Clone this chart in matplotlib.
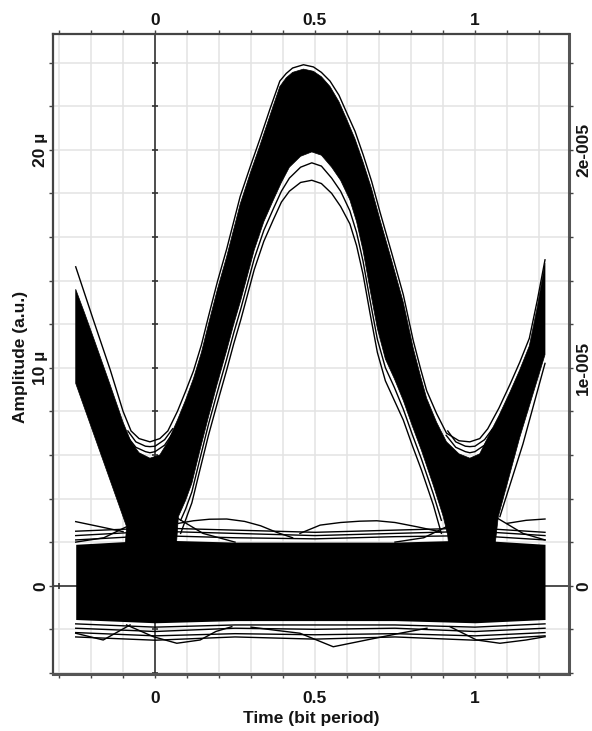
import numpy as np
import matplotlib
matplotlib.use("Agg")
import matplotlib.pyplot as plt

plt.rcParams["font.family"] = ["Liberation Sans", "DejaVu Sans"]

# ---- data (time in bit periods, amplitude in micro-units) ----
# outline of the dense "1" region: two V crossings plus the raised pulse
eye_x = [-0.248, -0.22, -0.193, -0.14, -0.1, -0.075, -0.05, -0.016, 0.015, 0.04,
         0.07, 0.095, 0.12, 0.145, 0.167, 0.195, 0.224, 0.245, 0.266, 0.297,
         0.328, 0.36, 0.39, 0.41, 0.43, 0.464, 0.495, 0.52, 0.547, 0.575,
         0.599, 0.625, 0.651, 0.677, 0.703, 0.74, 0.776, 0.807, 0.83, 0.849,
         0.88, 0.911, 0.95, 0.984, 1.015, 1.04, 1.075, 1.11, 1.14, 1.17,
         1.195, 1.219,
         1.219, 1.14, 1.073, 1.06, 0.92, 0.915,
         0.901, 0.87, 0.833, 0.805, 0.776, 0.748, 0.72, 0.695, 0.672, 0.65,
         0.63, 0.609, 0.58, 0.552, 0.52, 0.49, 0.455, 0.42, 0.395, 0.37,
         0.34, 0.31, 0.29, 0.268, 0.246, 0.224, 0.195, 0.167, 0.14, 0.115,
         0.095, 0.073, 0.065, -0.095, -0.089, -0.248]
eye_y = [13.6, 12.5, 11.4, 9.2, 7.5, 6.6, 6.1, 5.85, 6.0, 6.6,
         7.6, 8.5, 9.5, 10.7, 12.0, 13.6, 15.1, 16.3, 17.5, 18.9,
         20.2, 21.6, 22.9, 23.3, 23.55, 23.7, 23.6, 23.35, 22.9, 22.2,
         21.4, 20.5, 19.4, 18.2, 16.8, 14.9, 13.0, 10.9, 9.6, 8.6,
         7.5, 6.6, 6.05, 5.85, 6.05, 6.8, 7.8, 8.9, 9.9, 11.0,
         12.8, 14.8,
         10.6, 6.8, 3.17, 1.5, 1.5, 2.3,
         3.17, 4.6, 6.2, 7.3, 8.5, 9.5, 10.4, 11.8, 13.6, 15.4,
         16.7, 17.7, 18.6, 19.2, 19.75, 19.9, 19.7, 19.2, 18.5, 17.7,
         16.7, 15.4, 14.3, 13.1, 12.0, 10.8, 9.3, 7.75, 6.2, 4.7,
         3.9, 3.17, 1.5, 1.5, 2.71, 9.28]

# dense "0" band
band_x = [-0.248, 0.0, 0.25, 0.5, 0.75, 1.0, 1.219]
band_hi = [1.9, 2.1, 2.0, 2.0, 2.0, 2.1, 1.9]
band_lo = [-1.55, -1.7, -1.6, -1.6, -1.6, -1.7, -1.55]

# separated individual traces
outer_x = [-0.248, -0.193, -0.14, -0.1, -0.075, -0.05, -0.016, 0.015, 0.04, 0.07,
           0.095, 0.12, 0.145, 0.167, 0.195, 0.224, 0.245, 0.266, 0.297, 0.328,
           0.36, 0.39, 0.41, 0.43, 0.464, 0.495, 0.52, 0.547, 0.575, 0.599,
           0.625, 0.651, 0.677, 0.703, 0.74, 0.776, 0.807, 0.83, 0.849, 0.88,
           0.911, 0.95, 0.984, 1.015, 1.04, 1.075, 1.11, 1.14, 1.17, 1.195, 1.219]
outer_y = [14.63, 12.2, 9.9, 8.0, 7.1, 6.75, 6.6, 6.75, 7.1, 8.0,
           8.9, 9.85, 11.05, 12.35, 13.95, 15.45, 16.65, 17.85, 19.2, 20.5,
           21.9, 23.15, 23.5, 23.75, 23.9, 23.8, 23.55, 23.15, 22.5, 21.7,
           20.85, 19.75, 18.55, 17.15, 15.25, 13.35, 11.25, 9.95, 8.95, 7.9,
           7.0, 6.65, 6.6, 6.75, 7.2, 8.15, 9.25, 10.25, 11.35, 13.1, 14.95]

vee_lines = [
    ([-0.09, -0.06, -0.03, -0.016, 0.0, 0.03, 0.06], [6.9, 6.35, 6.15, 6.1, 6.15, 6.45, 7.1]),
    ([-0.085, -0.06, -0.03, -0.016, 0.0, 0.03, 0.055], [7.1, 6.6, 6.4, 6.38, 6.4, 6.7, 7.2]),
    ([0.91, 0.94, 0.97, 0.984, 1.0, 1.03, 1.06], [6.9, 6.35, 6.15, 6.1, 6.15, 6.45, 7.1]),
    ([0.915, 0.94, 0.97, 0.984, 1.0, 1.03, 1.055], [7.1, 6.6, 6.4, 6.38, 6.4, 6.7, 7.2]),
]

inner_x = [0.08, 0.095, 0.115, 0.14, 0.167, 0.195, 0.224, 0.246, 0.268, 0.29,
           0.31, 0.34, 0.37, 0.395, 0.42, 0.455, 0.49, 0.52, 0.552, 0.58,
           0.609, 0.63, 0.65, 0.672, 0.695, 0.72, 0.748, 0.776, 0.805, 0.833,
           0.87, 0.895]
inner1_y = [3.0, 3.5, 4.3, 5.8, 7.4, 8.9, 10.4, 11.6, 12.7, 13.9,
            15.0, 16.3, 17.3, 18.1, 18.7, 19.2, 19.4, 19.25, 18.7, 18.1,
            17.2, 16.2, 14.9, 13.1, 11.3, 10.0, 9.1, 8.1, 6.9, 5.8,
            4.2, 3.0]
inner2_y = [2.4, 3.0, 3.8, 5.3, 6.9, 8.4, 9.9, 11.1, 12.2, 13.4,
            14.5, 15.8, 16.8, 17.6, 18.1, 18.5, 18.6, 18.45, 18.0, 17.4,
            16.6, 15.6, 14.3, 12.5, 10.7, 9.4, 8.5, 7.6, 6.4, 5.3,
            3.7, 2.4]

right_low_x = [1.219, 1.15, 1.078]
right_low_y = [10.2, 6.5, 3.17]

top_lines = [
    ([-0.248, -0.17, -0.1], [2.94, 2.7, 2.48]),
    ([-0.09, -0.16, -0.248], [2.7, 2.2, 2.0]),
    ([0.07, 0.15, 0.25], [3.1, 2.4, 2.0]),
    ([0.073, 0.12, 0.17, 0.224, 0.28, 0.33, 0.38, 0.43], [2.86, 2.98, 3.05, 3.06, 2.95, 2.75, 2.45, 2.2]),
    ([0.453, 0.516, 0.58, 0.64, 0.693, 0.75, 0.82, 0.89], [2.4, 2.78, 2.9, 2.96, 2.98, 2.9, 2.7, 2.48]),
    ([0.91, 0.84, 0.75], [2.7, 2.2, 2.0]),
    ([1.07, 1.15, 1.219], [3.1, 2.4, 2.1]),
    ([1.1, 1.16, 1.219], [2.86, 3.0, 3.06]),
    ([-0.248, 0.0, 0.25, 0.5, 0.75, 1.0, 1.219], [2.5, 2.65, 2.55, 2.45, 2.55, 2.65, 2.45]),
    ([-0.248, 0.0, 0.25, 0.5, 0.75, 1.0, 1.219], [2.3, 2.5, 2.4, 2.3, 2.4, 2.5, 2.3]),
    ([-0.248, 0.0, 0.25, 0.5, 0.75, 1.0, 1.219], [2.1, 2.3, 2.2, 2.15, 2.25, 2.3, 2.1]),
]
bottom_lines = [
    ([-0.248, -0.162, -0.078], [-2.18, -2.49, -1.8]),
    ([-0.089, -0.005, 0.068, 0.141, 0.19, 0.24], [-1.8, -2.34, -2.64, -2.49, -2.1, -1.88]),
    ([0.3, 0.38, 0.453, 0.557, 0.661, 0.766, 0.85], [-1.9, -2.05, -2.18, -2.8, -2.49, -2.18, -1.95]),
    ([0.922, 1.005, 1.078, 1.16, 1.219], [-1.88, -2.49, -2.64, -2.49, -2.34]),
    ([-0.248, 0.0, 0.25, 0.5, 0.75, 1.0, 1.219], [-1.75, -1.9, -1.8, -1.8, -1.8, -1.9, -1.75]),
    ([-0.248, 0.0, 0.25, 0.5, 0.75, 1.0, 1.219], [-1.95, -2.1, -1.95, -2.0, -1.95, -2.1, -1.95]),
    ([-0.248, 0.0, 0.25, 0.5, 0.75, 1.0, 1.219], [-2.15, -2.3, -2.2, -2.25, -2.2, -2.3, -2.15]),
    ([-0.248, 0.0, 0.25, 0.5, 0.75, 1.0, 1.219], [-2.35, -2.5, -2.35, -2.45, -2.35, -2.5, -2.3]),
]

x_major = [0, 0.5, 1]
x_major_labels = ["0", "0.5", "1"]
y_major = [0, 10, 20]
y_left_labels = ["0", "10 \u00b5", "20 \u00b5"]
y_right_labels = ["0", "1e-005", "2e-005"]

U = 1e-6
INK = "#141414"
AXC = "#444444"
GRID = "#e3e3e3"
FS = 12.5

fig = plt.figure(figsize=(5.92, 7.31), dpi=100)
ax = fig.add_axes([53 / 592, 1 - 674 / 731, 516 / 592, 640 / 731])
ax.set_xlim(-0.319, 1.294)
ax.set_ylim(-4.05 * U, 25.31 * U)

x_minor = np.round(np.arange(-0.3, 1.21, 0.1), 2)
y_minor = np.arange(-4, 25, 2) * U

ax.set_xticks(x_major)
ax.set_xticklabels(x_major_labels)
ax.set_xticks(x_minor, minor=True)
ax.set_yticks([v * U for v in y_major])
ax.set_yticklabels(y_left_labels, rotation=90, va="center")
ax.set_yticks(y_minor, minor=True)
ax.set_axisbelow(True)
ax.grid(True, which="both", color=GRID, linewidth=1.1)

ax.tick_params(which="both", direction="out", length=3, width=1, color=AXC,
               labelsize=FS, labelcolor=INK)
ax.tick_params(axis="x", which="major", pad=9)
ax.tick_params(axis="y", which="major", pad=0.5)
for lbl in ax.get_xticklabels() + ax.get_yticklabels():
    lbl.set_fontweight("bold")

for side in ["top", "left"]:
    ax.spines[side].set_color(AXC)
    ax.spines[side].set_linewidth(1.6)
for side in ["bottom", "right"]:
    ax.spines[side].set_color("#555555")
    ax.spines[side].set_linewidth(2.2)

# zero axes with their own small ticks
ax.axvline(0, color="#333333", lw=1.2, zorder=1.5)
ax.axhline(0, color="#333333", lw=1.2, zorder=1.5)
ax.plot(np.zeros(len(y_minor)), y_minor, ls="none", marker="_", ms=5,
        mew=1.2, color="#333333", zorder=1.6)
ax.plot(x_minor, np.zeros(len(x_minor)), ls="none", marker="|", ms=5,
        mew=1.2, color="#333333", zorder=1.6)

# eye traces
ax.fill(eye_x, np.array(eye_y) * U, color="black", lw=0.5, zorder=3)
ax.fill_between(band_x, np.array(band_lo) * U, np.array(band_hi) * U,
                color="black", lw=0, zorder=3)
traces = [(outer_x, outer_y), (inner_x, inner1_y), (inner_x, inner2_y),
          (right_low_x, right_low_y)] + vee_lines + top_lines + bottom_lines
for xs, ys in traces:
    ax.plot(xs, np.array(ys) * U, color="black", lw=1.0, zorder=3)

# top x labels
axt = ax.twiny()
axt.set_xlim(ax.get_xlim())
axt.set_xticks(x_major)
axt.set_xticklabels(x_major_labels, fontweight="bold")
axt.set_xticks(x_minor, minor=True)
axt.tick_params(which="both", direction="out", length=3, width=1, color=AXC,
                labelsize=FS, labelcolor=INK, pad=1.5)

# right y labels
ax2 = ax.twinx()
ax2.set_ylim(ax.get_ylim())
ax2.set_yticks([v * U for v in y_major])
ax2.set_yticklabels(y_right_labels, rotation=90, va="center", fontweight="bold")
ax2.set_yticks(y_minor, minor=True)
ax2.tick_params(which="both", direction="out", length=3, width=1, color=AXC,
                labelsize=FS, labelcolor=INK, pad=2)
for a in (axt, ax2):
    for s in a.spines.values():
        s.set_visible(False)

fig.text(311 / 592, 1 - 719 / 731, "Time (bit period)", fontsize=FS,
         fontweight="bold", color=INK, ha="center", va="center")
fig.text(20.5 / 592, 1 - 357 / 731, "Amplitude (a.u.)", fontsize=FS,
         fontweight="bold", color=INK, ha="center", va="center", rotation=90)

fig.savefig("out.png", dpi=100)
